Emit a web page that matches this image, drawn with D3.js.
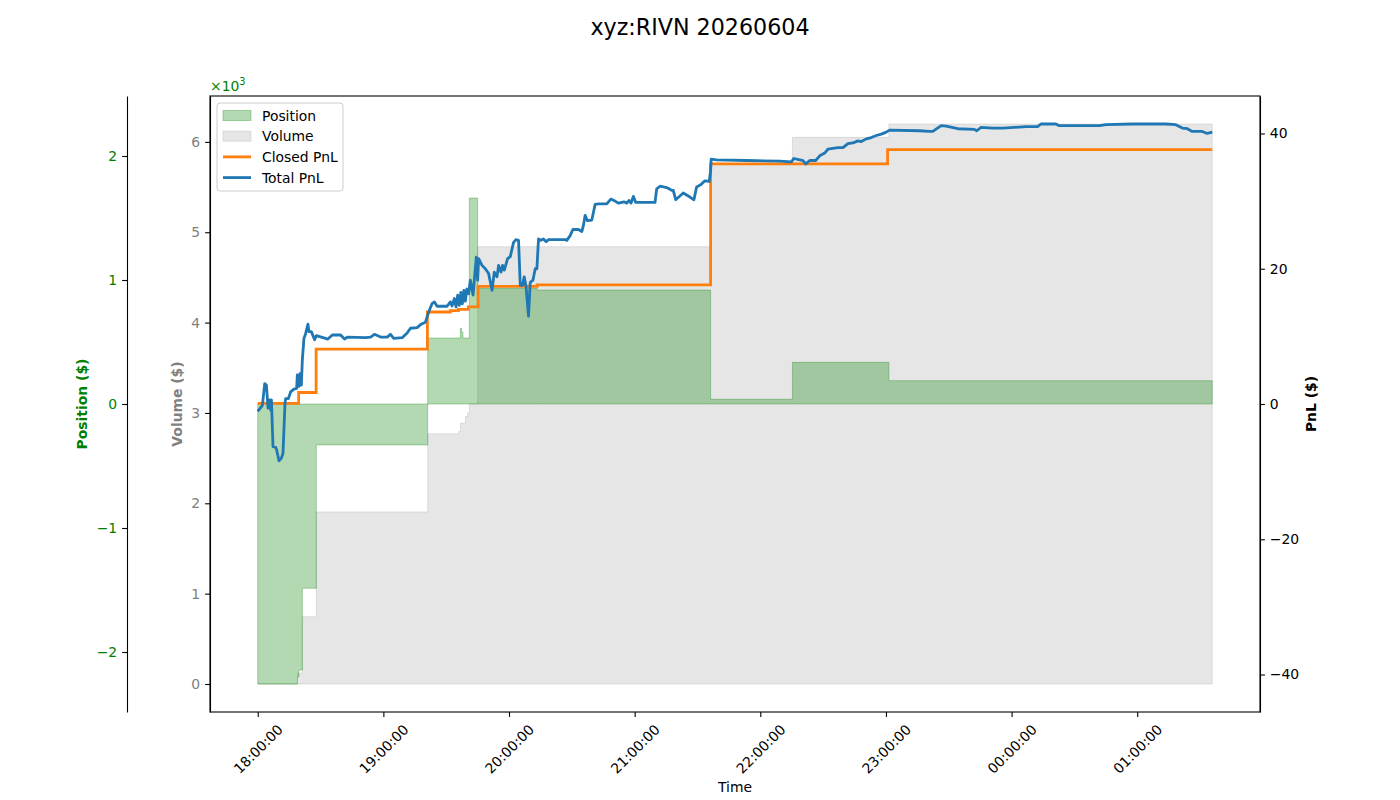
<!DOCTYPE html>
<html>
<head>
<meta charset="utf-8">
<script src="https://d3js.org/d3.v7.min.js"></script>
<style>
  body { margin: 0; background: #fff; }
  svg { font-family: "DejaVu Sans", sans-serif; }
</style>
</head>
<body>
<script>
  // ---- data ----
  var totalTimes = ["18:00:00","18:02:14","18:03:20","18:04:09","18:04:55","18:05:43","18:06:12","18:06:32","18:07:18","18:08:35",
    "18:09:03","18:10:09","18:11:18","18:12:04","18:13:01","18:13:21","18:14:38","18:15:44","18:17:18","18:18:35",
    "18:18:55","18:19:41","18:20:10","18:20:50","18:21:18","18:22:04","18:22:53","18:23:59","18:24:27","18:25:36",
    "18:27:10","18:27:59","18:30:22","18:33:31","18:35:36","18:39:34","18:41:28","18:42:45","18:51:29","18:53:52",
    "18:55:46","18:58:38","19:01:49","19:03:24","19:04:58","19:08:58","19:11:21","19:12:56","19:16:07","19:18:02",
    "19:20:05","19:21:39","19:23:16","19:24:22","19:25:39","19:30:25","19:32:00","19:32:48","19:33:54","19:34:43",
    "19:35:29","19:36:17","19:37:00","19:37:43","19:38:26","19:39:09","19:39:52","19:40:43","19:41:32","19:42:49",
    "19:44:23","19:45:01","19:45:30","19:47:07","19:48:41","19:50:15","19:51:53","19:52:58","19:54:15","19:55:01",
    "19:56:10","19:56:55","19:57:44","19:59:19","20:00:36","20:02:10","20:03:19","20:04:33","20:05:22","20:06:28",
    "20:07:16","20:08:05","20:09:19","20:10:08","20:11:25","20:12:31","20:13:19","20:14:05","20:15:14","20:16:28",
    "20:17:45","20:18:51","20:26:49","20:27:37","20:29:12","20:30:29","20:33:09","20:34:46","20:35:32","20:36:21",
    "20:37:27","20:39:32","20:41:07","20:42:41","20:46:41","20:48:36","20:50:39","20:52:13","20:54:56","20:56:13",
    "20:57:19","20:58:16","20:59:22","21:00:31","21:09:43","21:10:31","21:12:06","21:15:17","21:17:40","21:18:26",
    "21:19:35","21:23:12","21:26:24","21:28:18","21:29:35","21:31:30","21:33:33","21:35:36","21:36:16","21:36:33",
    "21:39:07","21:53:25","22:09:18","22:14:52","22:15:58","22:18:50","22:20:24","22:21:41","22:23:36","22:26:27",
    "22:28:22","22:30:45","22:32:19","22:37:05","22:39:28","22:41:51","22:44:14","22:46:37","22:48:14","22:50:37",
    "22:53:00","22:55:23","22:57:46","23:00:09","23:01:44","23:16:02","23:20:48","23:22:22","23:26:22","23:28:45",
    "23:34:17","23:42:15","23:43:20","23:45:26","23:50:58","23:55:44","00:06:53","00:12:25","00:14:02","00:21:11",
    "00:22:46","00:41:50","00:45:01","00:57:42","01:13:37","01:18:23","01:21:32","01:23:55","01:26:18","01:31:04",
    "01:33:27","01:35:50"];
  var totalPnl = [-1.1,-0.2,3.0,2.8,-0.6,0.6,-0.9,0.6,-6.3,-6.4,
    -6.8,-8.4,-8.0,-7.3,0.1,0.8,0.8,1.8,2.2,2.3,
    4.3,2.6,4.5,2.8,6.5,9.7,10.4,11.8,10.7,10.7,
    9.5,10.1,9.9,9.6,10.2,10.2,9.6,9.9,9.8,9.9,
    10.3,9.9,9.9,10.3,9.7,9.8,10.5,11.2,11.3,11.8,
    12.1,13.6,14.85,15.1,14.45,14.45,15.1,14.5,15.6,14.35,
    16.1,14.6,16.5,14.8,16.8,15.2,17.0,16.3,18.3,16.1,
    21.7,18.3,21.5,20.5,20.0,19.3,16.8,19.5,18.8,20.5,
    19.5,20.5,19.8,21.5,21.8,23.9,24.3,24.2,17.55,17.55,
    18.8,17.5,13.0,18.0,18.3,20.0,20.0,24.4,24.2,24.4,
    24.0,24.3,24.3,24.2,24.9,25.8,25.8,25.5,26.4,27.9,
    27.1,27.2,29.5,29.6,29.6,30.3,30.0,29.7,29.9,29.7,
    30.1,29.7,30.7,29.8,29.8,31.8,32.2,32.0,31.6,31.6,
    30.2,31.2,30.6,30.2,32.1,32.4,33.0,32.9,34.5,36.2,
    36.1,36.0,35.9,35.8,36.3,36.1,36.0,35.5,36.0,36.0,
    36.7,37.1,37.7,37.9,37.9,38.5,38.6,38.9,38.8,39.2,
    39.4,39.7,39.9,40.2,40.5,40.4,40.3,40.3,41.15,41.1,
    40.7,40.6,40.4,40.9,40.8,40.8,41.0,41.0,41.4,41.4,
    41.15,41.15,41.3,41.4,41.4,41.3,40.8,40.7,40.3,40.3,
    40.0,40.2];

  var closedTimes = ["18:00:00","18:19:32","18:27:53","19:21:02","19:32:00","19:35:49","19:40:35","19:45:12","20:13:28","21:36:16","23:00:47","01:35:50"];
  var closedPnl = [0.1,1.7,8.1,13.6,13.8,14.0,14.35,17.4,17.6,35.5,37.6,37.6];

  var posTimes = ["18:00:00","18:18:55","18:19:41","18:21:18","18:27:59","19:21:10","19:36:46","19:37:20","19:38:00","19:41:03","19:45:01","20:13:28","21:36:16","22:15:21","23:01:24","01:35:50"];
  var posValues = [-2258,-2200,-2145,-1486,-330,532,610,580,532,1661,933,919,38,336,188,188];

  var volTimes = ["18:00:00","18:19:04","18:21:18","18:27:59","19:21:10","19:36:00","19:36:46","19:39:09","19:40:15","19:41:03","19:45:01","21:36:16","22:15:21","23:01:24","01:35:50"];
  var volValues = [0,120,745,1905,2770,2794,2886,2960,3000,3100,4840,5760,6050,6198,6198];

  var posTicks = [-2000, -1000, 0, 1000, 2000];
  var volTicks = [0, 1000, 2000, 3000, 4000, 5000, 6000];
  var pnlTicks = [-40, -20, 0, 20, 40];

  // ---- layout ----
  var W = 1400, H = 800;
  var plotL = 210, plotR = 1260, plotT = 96, plotB = 712;
  var fs = 13.9;

  function parseT(s) {
    var p = s.split(':').map(Number);
    var d = new Date(2026, 5, 3, p[0], p[1], p[2]);
    if (p[0] < 12) d.setDate(d.getDate() + 1);
    return d;
  }
  function zip(ts, vs) {
    return ts.map(function(t, i) { return {t: parseT(t), v: vs[i]}; });
  }
  var totalData = zip(totalTimes, totalPnl);
  var closedData = zip(closedTimes, closedPnl);
  var posData = zip(posTimes, posValues);
  var volData = zip(volTimes, volValues);

  var svg = d3.select('body').append('svg')
    .attr('width', W).attr('height', H);

  // scales
  var t0 = totalData[0].t, t1 = totalData[totalData.length - 1].t;
  var pad = (t1 - t0) * 0.05;
  var x = d3.scaleTime()
    .domain([new Date(+t0 - pad), new Date(+t1 + pad)])
    .range([plotL, plotR]);

  var posMax = d3.max(posValues, function(d) { return Math.abs(d); }) * 1.1;
  var yPos = d3.scaleLinear().domain([-posMax, posMax]).range([plotB, plotT]);

  var volMax = d3.max(volValues);
  var yVol = d3.scaleLinear().domain([-volMax * 0.05, volMax * 1.05]).range([plotB, plotT]);

  var pnlMax = d3.max(totalPnl.concat(closedPnl), function(d) { return Math.abs(d); }) * 1.1;
  var yPnl = d3.scaleLinear().domain([-pnlMax, pnlMax]).range([plotB, plotT]);

  // title
  svg.append('text')
    .attr('x', 700).attr('y', 35)
    .attr('text-anchor', 'middle')
    .style('font-size', '22.2px')
    .text('xyz:RIVN 20260604');

  // volume area
  var volArea = d3.area()
    .x(function(d) { return x(d.t); })
    .y0(yVol(0))
    .y1(function(d) { return yVol(d.v); })
    .curve(d3.curveStepAfter);
  svg.append('path')
    .datum(volData)
    .attr('d', volArea)
    .attr('fill', 'gray').attr('fill-opacity', 0.2)
    .attr('stroke', 'gray').attr('stroke-opacity', 0.2).attr('stroke-width', 1);

  // position area
  var posArea = d3.area()
    .x(function(d) { return x(d.t); })
    .y0(yPos(0))
    .y1(function(d) { return yPos(d.v); })
    .curve(d3.curveStepAfter);
  svg.append('path')
    .datum(posData)
    .attr('d', posArea)
    .attr('fill', 'green').attr('fill-opacity', 0.3)
    .attr('stroke', 'green').attr('stroke-opacity', 0.3).attr('stroke-width', 1);

  // pnl lines
  var closedLine = d3.line()
    .x(function(d) { return x(d.t); })
    .y(function(d) { return yPnl(d.v); })
    .curve(d3.curveStepAfter);
  svg.append('path')
    .datum(closedData)
    .attr('d', closedLine)
    .attr('fill', 'none').attr('stroke', '#ff7f0e').attr('stroke-width', 2.8);

  var totalLine = d3.line()
    .x(function(d) { return x(d.t); })
    .y(function(d) { return yPnl(d.v); });
  svg.append('path')
    .datum(totalData)
    .attr('d', totalLine)
    .attr('fill', 'none').attr('stroke', '#1f77b4').attr('stroke-width', 2.8)
    .attr('stroke-linejoin', 'round');

  // frame
  svg.append('rect')
    .attr('x', plotL).attr('y', plotT)
    .attr('width', plotR - plotL).attr('height', plotB - plotT)
    .attr('fill', 'none').attr('stroke', '#000').attr('stroke-width', 1.1);

  function styleAxis(g, color) {
    g.selectAll('.domain').attr('stroke', '#000').attr('stroke-width', 1.1);
    g.selectAll('.tick line').attr('stroke', '#000').attr('stroke-width', 1.1);
    g.selectAll('.tick text')
      .attr('fill', color)
      .style('font-size', fs + 'px')
      .style('font-family', '"DejaVu Sans", sans-serif');
  }
  var thousands = function(d) { return d3.format('d')(d / 1000).replace('-', '\u2212'); };

  // x axis
  var gx = svg.append('g')
    .attr('transform', 'translate(0,' + plotB + ')')
    .call(d3.axisBottom(x)
      .ticks(d3.timeHour.every(1))
      .tickFormat(d3.timeFormat('%H:%M:%S'))
      .tickSizeInner(4.9).tickSizeOuter(0).tickPadding(4.9));
  styleAxis(gx, '#000');
  gx.select('.domain').remove();
  gx.selectAll('.tick text')
    .attr('text-anchor', 'middle')
    .attr('dominant-baseline', 'central')
    .attr('y', 0).attr('dy', null)
    .attr('transform', 'translate(0,37) rotate(-45)');

  svg.append('text')
    .attr('x', (plotL + plotR) / 2).attr('y', 792)
    .attr('text-anchor', 'middle')
    .style('font-size', fs + 'px')
    .text('Time');

  // volume axis (left)
  var gv = svg.append('g')
    .attr('transform', 'translate(' + plotL + ',0)')
    .call(d3.axisLeft(yVol).tickValues(volTicks).tickFormat(thousands)
      .tickSizeInner(4.9).tickSizeOuter(0).tickPadding(4.9));
  styleAxis(gv, 'gray');

  svg.append('text')
    .attr('transform', 'translate(182,' + ((plotT + plotB) / 2) + ') rotate(-90)')
    .attr('text-anchor', 'middle')
    .attr('fill', 'gray')
    .style('font-size', fs + 'px').style('font-weight', 'bold')
    .text('Volume ($)');

  // position axis (outer left)
  var gp = svg.append('g')
    .attr('transform', 'translate(127,0)')
    .call(d3.axisLeft(yPos).tickValues(posTicks).tickFormat(thousands)
      .tickSizeInner(4.9).tickSizeOuter(0).tickPadding(4.9));
  styleAxis(gp, 'green');

  svg.append('text')
    .attr('transform', 'translate(87,' + ((plotT + plotB) / 2) + ') rotate(-90)')
    .attr('text-anchor', 'middle')
    .attr('fill', 'green')
    .style('font-size', fs + 'px').style('font-weight', 'bold')
    .text('Position ($)');

  var mult = svg.append('text')
    .attr('x', plotL).attr('y', 91)
    .attr('fill', 'green')
    .style('font-size', fs + 'px');
  mult.append('tspan').text('\u00d710');
  mult.append('tspan').attr('dy', -6).style('font-size', '9.7px').text('3');

  // pnl axis (right)
  var gr = svg.append('g')
    .attr('transform', 'translate(' + plotR + ',0)')
    .call(d3.axisRight(yPnl).tickValues(pnlTicks)
      .tickFormat(function(d) { return String(d).replace('-', '\u2212'); })
      .tickSizeInner(4.9).tickSizeOuter(0).tickPadding(4.9));
  styleAxis(gr, '#000');

  svg.append('text')
    .attr('transform', 'translate(1316,' + ((plotT + plotB) / 2) + ') rotate(-90)')
    .attr('text-anchor', 'middle')
    .style('font-size', fs + 'px').style('font-weight', 'bold')
    .text('PnL ($)');

  // legend
  var legendItems = [
    {label: 'Position', type: 'patch', color: 'green', alpha: 0.3},
    {label: 'Volume', type: 'patch', color: 'gray', alpha: 0.2},
    {label: 'Closed PnL', type: 'line', color: '#ff7f0e'},
    {label: 'Total PnL', type: 'line', color: '#1f77b4'}
  ];
  var lg = svg.append('g').attr('transform', 'translate(217,103)');
  lg.append('rect')
    .attr('width', 126).attr('height', 88).attr('rx', 3)
    .attr('fill', 'white').attr('fill-opacity', 0.8)
    .attr('stroke', '#cccccc').attr('stroke-width', 1);
  legendItems.forEach(function(d, i) {
    var cy = 12.5 + i * 20.7;
    if (d.type === 'patch') {
      lg.append('rect')
        .attr('x', 6).attr('y', cy - 5).attr('width', 28).attr('height', 10)
        .attr('fill', d.color).attr('fill-opacity', d.alpha)
        .attr('stroke', d.color).attr('stroke-opacity', d.alpha);
    } else {
      lg.append('line')
        .attr('x1', 6).attr('x2', 34).attr('y1', cy).attr('y2', cy)
        .attr('stroke', d.color).attr('stroke-width', 2.8);
    }
    lg.append('text')
      .attr('x', 45).attr('y', cy + 5)
      .style('font-size', fs + 'px')
      .text(d.label);
  });
</script>
</body>
</html>
